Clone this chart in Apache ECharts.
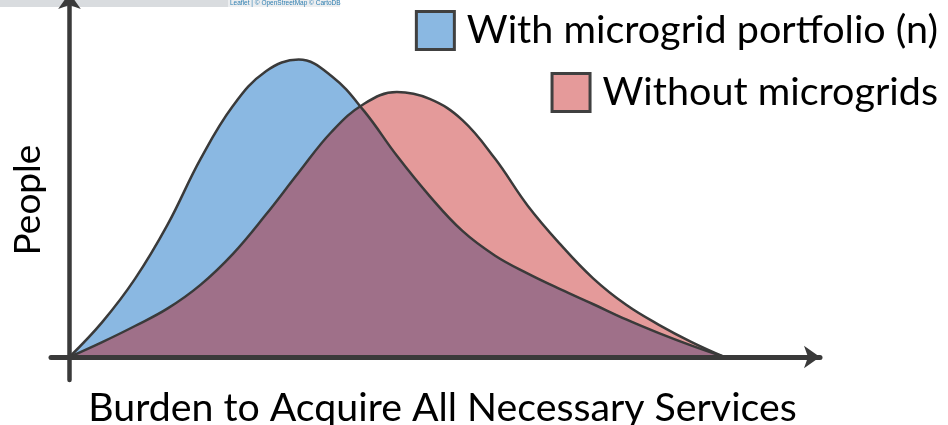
<!DOCTYPE html>
<html>
<head>
<meta charset="utf-8">
<script src="https://cdn.jsdelivr.net/npm/echarts@6/dist/echarts.min.js"></script>
<style>
  html, body { margin: 0; padding: 0; background: #fff; }
  #chart { width: 948px; height: 425px; }
</style>
</head>
<body>
<div id="chart"></div>
<script>
// burden (x) on a 0..100 scale
const burden = [0, 5, 10, 15, 20, 25, 30, 35, 40, 45, 50, 55, 60, 65, 70, 75, 80, 85, 90, 95, 100];
// people with the microgrid portfolio (blue), 0..100
const peopleWith = [0, 11.7, 26.2, 44.5, 66.4, 84.4, 95.9, 99.8, 94.3, 82.5, 67.5, 54.0, 42.3, 34.0, 28.0, 22.7, 17.7, 12.6, 8.0, 3.8, 0];
// people without microgrids (red)
const peopleWithout = [0, 5.0, 10.4, 16.3, 24.2, 34.7, 47.8, 61.9, 75.5, 85.0, 88.9, 86.6, 79.5, 66.5, 50.7, 37.7, 26.3, 17.5, 10.8, 5.0, 0];

const seriesNames = ['With microgrid portfolio (n)', 'Without microgrids'];

const zip = (xs, ys) => xs.map((x, i) => [x, ys[i]]);

const font = 'Lato';
const axisColor = '#3a3a3a';

const chart = echarts.init(document.getElementById('chart'));

const legendBase = {
  orient: 'horizontal',
  icon: 'rect',
  padding: 0,
  itemWidth: 38,
  itemHeight: 38,
  selectedMode: false,
  lineStyle: { color: 'rgba(0,0,0,0)', width: 0 },
  itemStyle: { borderColor: '#404040', borderWidth: 3 },
  textStyle: { fontFamily: font, fontSize: 39.5, color: '#000', padding: [0, 0, 0, 7.5] },
};

chart.setOption({
  animation: false,
  grid: { left: 51, right: 128, top: -7, bottom: 45, outerBoundsMode: 'none', containLabel: false },
  graphic: [
    { type: 'rect', z: -1, shape: { x: 0, y: 0, width: 228, height: 7 }, style: { fill: '#d9dcdf' } },
    { type: 'rect', z: -1, shape: { x: 228, y: 0, width: 112, height: 7 }, style: { fill: '#eceef0' } },
    {
      type: 'text', z: -1, x: 230, y: 7,
      style: {
        text: 'Leaflet | © OpenStreetMap © CartoDB',
        font: '6.5px "Liberation Sans"', fill: '#2f7fb0', textVerticalAlign: 'bottom',
      },
    },
  ],
  legend: [
    Object.assign({}, legendBase, {
      right: 10, top: 10,
      data: [{ name: seriesNames[0], itemStyle: { color: '#8ab8e2' } }],
    }),
    Object.assign({}, legendBase, {
      right: 10, top: 72,
      data: [{ name: seriesNames[1], itemStyle: { color: '#e59a9a' } }],
    }),
  ],
  xAxis: {
    type: 'value',
    min: -2.82,
    max: 114.6,
    z: 5,
    name: 'Burden to Acquire All Necessary Services',
    nameLocation: 'middle',
    nameGap: 9,
    nameMoveOverlap: false,
    nameTextStyle: { fontFamily: font, fontSize: 39.3, color: '#000', padding: [0, 0, 0, 14] },
    axisLine: { show: true, symbol: ['none', 'arrow'], symbolSize: [17, 16], lineStyle: { color: axisColor, width: 5 } },
    axisTick: { show: false },
    axisLabel: { show: false },
    splitLine: { show: false },
  },
  yAxis: {
    type: 'value',
    min: -7.72,
    max: 122.15,
    z: 5,
    name: 'People',
    nameLocation: 'middle',
    nameGap: 4,
    nameMoveOverlap: false,
    nameTextStyle: { fontFamily: font, fontSize: 37, color: '#000', padding: [0, 27, 0, 0] },
    axisLine: { show: true, symbol: ['none', 'arrow'], symbolSize: [17, 16], lineStyle: { color: axisColor, width: 4.5 } },
    axisTick: { show: false },
    axisLabel: { show: false },
    splitLine: { show: false },
  },
  series: [
    {
      name: seriesNames[0],
      type: 'line',
      smooth: 0.4,
      symbol: 'none',
      data: zip(burden, peopleWith),
      itemStyle: { color: '#8ab8e2' },
      lineStyle: { color: axisColor, width: 2.5 },
      areaStyle: { color: '#8ab8e2', opacity: 1 },
    },
    {
      name: seriesNames[1],
      type: 'line',
      smooth: 0.4,
      symbol: 'none',
      data: zip(burden, peopleWithout),
      itemStyle: { color: '#e59a9a' },
      lineStyle: { color: axisColor, width: 2.5 },
      areaStyle: { color: 'rgba(190,10,10,0.41)', opacity: 1 },
    },
  ],
});

window.addEventListener('resize', () => chart.resize());
</script>
</body>
</html>
